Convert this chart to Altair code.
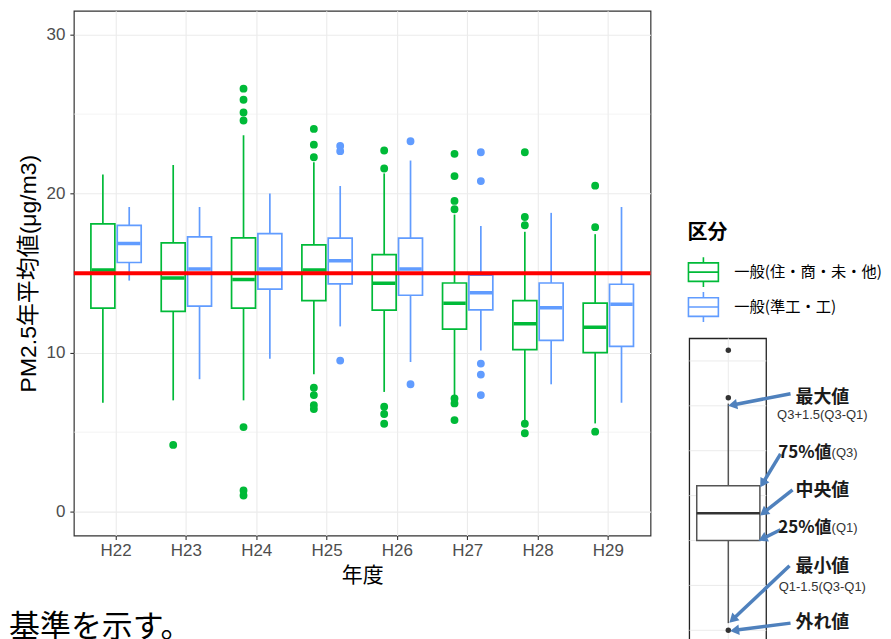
import altair as alt
import pandas as pd

FONT = "Liberation Sans, Noto Sans CJK JP, sans-serif"
JFONT = "Noto Sans CJK JP, sans-serif"

years = ["H22", "H23", "H24", "H25", "H26", "H27", "H28", "H29"]
groups = ["一般(住・商・未・他)", "一般(準工・工)"]
colors = ["#00BA38", "#619CFF"]

green_lower = [6.85, 7.0, 7.0, 8.64, 7.53, 7.22, 5.7, 5.55]
green_q1 = [12.8, 12.6, 12.8, 13.27, 12.67, 11.48, 10.19, 10.0]
green_median = [15.2, 14.7, 14.6, 15.2, 14.36, 13.1, 11.81, 11.6]
green_q3 = [18.1, 16.9, 17.22, 16.78, 16.16, 14.38, 13.27, 13.11]
green_upper = [21.2, 21.8, 23.67, 21.98, 21.27, 18.68, 17.6, 17.45]

blue_lower = [14.53, 8.33, 9.62, 11.65, 9.41, 10.14, 8.01, 6.85]
blue_q1 = [15.67, 12.92, 14.0, 14.32, 13.61, 12.69, 10.77, 10.39]
blue_median = [16.86, 15.26, 15.26, 15.78, 15.26, 13.76, 12.82, 13.04]
blue_q3 = [18.0, 17.28, 17.49, 17.2, 17.2, 14.88, 14.38, 14.3]
blue_upper = [19.16, 19.16, 20.0, 20.48, 22.08, 17.97, 18.79, 19.16]

green_outliers = {
    "H23": [4.2],
    "H24": [26.6, 25.9, 25.1, 24.6, 5.32, 1.33, 1.02],
    "H25": [24.07, 23.08, 22.29, 7.79, 7.33, 6.7, 6.45],
    "H26": [22.71, 21.58, 6.6, 6.14, 5.53],
    "H27": [22.5, 21.1, 19.54, 19.02, 7.12, 6.81, 5.76],
    "H28": [22.6, 18.53, 18.01, 5.53, 4.93],
    "H29": [20.5, 17.89, 5.03],
}
blue_outliers = {
    "H25": [23.0, 22.67, 9.5],
    "H26": [23.29, 8.01],
    "H27": [22.6, 20.79, 9.31, 8.62, 7.33],
}

standard = [15]
y_ticks = [0, 10, 20, 30]
y_minor = [5, 15, 25]

# ---- explanation inset (example boxplot, in its own units) ----
ex_points = [6.24, 5.18, 0.0]
ex_whisk_lo = [0.16, 3.22]
ex_whisk_hi = [2.0, 5.05]
ex_q1, ex_median, ex_q3 = 2.0, 2.61, 3.22
ex_grid = [0, 1, 2, 3, 4, 5, 6]

arrow_x1 = [13.16, 11.86, 13.42, 11.86, 13.03, 13.16]
arrow_y1 = [5.27, 3.93, 3.13, 2.24, 1.44, 0.16]
arrow_x2 = [5.62, 9.52, 9.65, 9.52, 5.62, 5.88]
arrow_y2 = [5.02, 3.27, 2.62, 2.04, 0.24, 0.0]

label_big_text = ["最大値", "中央値", "最小値", "外れ値"]
label_big_y = [5.18, 3.11, 1.40, 0.16]
label_small_text = ["Q3+1.5(Q3-Q1)", "Q1-1.5(Q3-Q1)"]
label_small_y = [4.80, 0.96]
label_pct_text = ["75%値", "25%値"]
label_pct_y = [3.96, 2.27]
label_q_text = ["(Q3)", "(Q1)"]

# ---- tables ----
rows = []
for i, y in enumerate(years):
    rows.append(dict(year=y, group=groups[0], lower=green_lower[i], q1=green_q1[i],
                     median=green_median[i], q3=green_q3[i], upper=green_upper[i]))
    rows.append(dict(year=y, group=groups[1], lower=blue_lower[i], q1=blue_q1[i],
                     median=blue_median[i], q3=blue_q3[i], upper=blue_upper[i]))
box_df = pd.DataFrame(rows)

orows = []
for y, vals in green_outliers.items():
    for v in vals:
        orows.append(dict(year=y, group=groups[0], value=v))
for y, vals in blue_outliers.items():
    for v in vals:
        orows.append(dict(year=y, group=groups[1], value=v))
out_df = pd.DataFrame(orows)

std_df = pd.DataFrame({"value": standard})
minor_df = pd.DataFrame({"value": y_minor})

YTITLE = "PM2.5年平均値(μg/m3)"
yscale = alt.Scale(domain=[-1.5, 31.5], nice=False, zero=False)
yaxis = alt.Axis(title=YTITLE, values=y_ticks, grid=True, labelPadding=5, titlePadding=6,
                 titleFont=FONT, titleFontSize=23)


def Y(field):
    return alt.Y(f"{field}:Q", scale=yscale, axis=yaxis)


def Y2(field):
    return alt.Y2(f"{field}:Q")


x_enc = alt.X("year:N", scale=alt.Scale(domain=years, paddingInner=0, paddingOuter=0.1),
              axis=alt.Axis(title="年度", labelAngle=0, grid=True, labelPadding=3,
                            titlePadding=6, titleFont=JFONT))
xoff = alt.XOffset("group:N", scale=alt.Scale(domain=groups, paddingInner=0, paddingOuter=0.335))

BOX_PATH = "M-1,-0.62H1V0.62H-1Z M-1,0H1 M0,-1V-0.62 M0,0.62V1"
legend = alt.Legend(title="区分", orient="none", legendX=615, legendY=213,
                    symbolType=BOX_PATH, symbolSize=900, symbolStrokeWidth=1.6,
                    symbolFillColor="white", labelFontSize=15.3, labelColor="black",
                    labelFont=JFONT, titleFont=JFONT, titleFontSize=20,
                    titleFontWeight="bold", titleColor="black", titlePadding=13,
                    rowPadding=-3, labelOffset=15, labelLimit=400)
col = alt.Color("group:N", scale=alt.Scale(domain=groups, range=colors), legend=legend)

base_box = alt.Chart(box_df)

minor = alt.Chart(minor_df).mark_rule(color="#EEEEEE", strokeWidth=0.7).encode(y=Y("value"))

boxes = base_box.mark_bar(filled=False, size=24, strokeWidth=1.7).encode(
    x=x_enc, xOffset=xoff, y=Y("q1"), y2=Y2("q3"), color=col)
wlo = base_box.mark_rule(strokeWidth=1.7).encode(
    x=x_enc, xOffset=xoff, y=Y("lower"), y2=Y2("q1"), color=col)
whi = base_box.mark_rule(strokeWidth=1.7).encode(
    x=x_enc, xOffset=xoff, y=Y("q3"), y2=Y2("upper"), color=col)
med = base_box.mark_bar(filled=False, size=22.5, strokeWidth=3.5).encode(
    x=x_enc, xOffset=xoff, y=Y("median"), y2=Y2("median"), color=col)
pts = alt.Chart(out_df).mark_point(filled=False, shape="circle", size=15, strokeWidth=4,
                                   opacity=1).encode(
    x=x_enc, xOffset=xoff, y=Y("value"), color=col)
std = alt.Chart(std_df).mark_rule(color="#FF0000", strokeWidth=4).encode(y=Y("value"))

main = alt.layer(boxes, minor, wlo, whi, med, pts, std).properties(
    width=578, height=526,
    title=alt.TitleParams("基準を示す。", orient="bottom", anchor="start", frame="bounds",
                          fontSize=31, fontWeight="normal", color="black", font=JFONT,
                          dx=-8, offset=28))

# ---- inset ----
SX = 7.7
SY = 45.0
ix = alt.Scale(domain=[0, 10], nice=False, zero=False)
iy = alt.Scale(domain=[-0.489, 13.8], nice=False, zero=False)


def IX(f):
    return alt.X(f"{f}:Q", scale=ix, axis=None)


def IY(f):
    return alt.Y(f"{f}:Q", scale=iy, axis=None)


frame_df = pd.DataFrame({"x": [0], "x2": [10], "y": [-0.489], "y2": [6.5]})
grid_df = pd.DataFrame({"y": ex_grid, "x": [0] * len(ex_grid), "x2": [10] * len(ex_grid)})
vgrid_df = pd.DataFrame({"x": [5.06], "y": [-0.489], "y2": [6.5]})
wh_df = pd.DataFrame({"x": [5.06, 5.06], "y": ex_whisk_lo, "y2": ex_whisk_hi})
exbox_df = pd.DataFrame({"x": [0.95], "x2": [9.17], "y": [ex_q1], "y2": [ex_q3], "m": [ex_median]})
expt_df = pd.DataFrame({"x": [5.06] * len(ex_points), "y": ex_points})
arrow_df = pd.DataFrame({"x": arrow_x1, "y": arrow_y1, "x2": arrow_x2, "y2": arrow_y2})
lb_df = pd.DataFrame({"x": [17.3] * len(label_big_text), "y": label_big_y, "t": label_big_text})
ls_df = pd.DataFrame({"x": [17.3] * len(label_small_text), "y": label_small_y, "t": label_small_text})
lp_df = pd.DataFrame({"x": [18.5, 18.5], "y": label_pct_y, "t": label_pct_text})
lq_df = pd.DataFrame({"x": [18.5, 18.5], "y": label_pct_y, "t": label_q_text})

frame = alt.Chart(frame_df).mark_rect(fill="white", stroke="#222222", strokeWidth=1.3).encode(
    x=IX("x"), x2="x2:Q", y=IY("y"), y2="y2:Q")
igrid = alt.Chart(grid_df).mark_rule(color="#EBEBEB", strokeWidth=1).encode(
    x=IX("x"), x2="x2:Q", y=IY("y"))
ivgrid = alt.Chart(vgrid_df).mark_rule(color="#EBEBEB", strokeWidth=1).encode(
    x=IX("x"), y=IY("y"), y2="y2:Q")
iwh = alt.Chart(wh_df).mark_rule(color="#555555", strokeWidth=1.5).encode(
    x=IX("x"), y=IY("y"), y2="y2:Q")
ibox = alt.Chart(exbox_df).mark_rect(fill="white", stroke="#555555", strokeWidth=1.5).encode(
    x=IX("x"), x2="x2:Q", y=IY("y"), y2="y2:Q")
imed = alt.Chart(exbox_df).mark_rule(color="#333333", strokeWidth=2.5).encode(
    x=IX("x"), x2="x2:Q", y=IY("m"))
ipts = alt.Chart(expt_df).mark_circle(color="#333333", size=30, opacity=1).encode(
    x=IX("x"), y=IY("y"))
ARROW = "#4F81BD"
ishaft = alt.Chart(arrow_df).mark_rule(color=ARROW, strokeWidth=3.5).encode(
    x=IX("x"), x2="x2:Q", y=IY("y"), y2="y2:Q")
ihead = alt.Chart(arrow_df).transform_calculate(
    ang=f"(atan2((datum.x2 - datum.x) * {SX}, (datum.y2 - datum.y) * {SY}) * 180 / PI + 360) % 360"
).mark_point(shape="triangle-up", filled=True, color=ARROW, size=110, opacity=1).encode(
    x=IX("x2"), y=IY("y2"), angle=alt.Angle("ang:Q", scale=None))
itext_b = alt.Chart(lb_df).mark_text(align="center", baseline="middle", font=JFONT,
                                     color="#1a1a1a", fontSize=18, fontWeight="bold").encode(
    x=IX("x"), y=IY("y"), text="t:N")
itext_s = alt.Chart(ls_df).mark_text(align="center", baseline="middle", font=FONT,
                                     color="#333333", fontSize=13).encode(
    x=IX("x"), y=IY("y"), text="t:N")
itext_p = alt.Chart(lp_df).mark_text(align="right", baseline="middle", font=JFONT,
                                     color="#1a1a1a", fontSize=17, fontWeight="bold").encode(
    x=IX("x"), y=IY("y"), text="t:N")
itext_q = alt.Chart(lq_df).mark_text(align="left", baseline="middle", font=FONT,
                                     color="#333333", fontSize=13).encode(
    x=IX("x"), y=IY("y"), text="t:N")

inset = alt.layer(frame, igrid, ivgrid, iwh, ibox, imed, ipts, ishaft, ihead,
                  itext_b, itext_s, itext_p, itext_q).properties(
    width=77, height=643, view=alt.ViewBackground(strokeOpacity=0))

chart = alt.hconcat(main, inset, spacing=39, bounds="flush").properties(
    padding={"left": 0, "top": 1, "right": 0, "bottom": 0}
).configure(font=FONT).configure_view(
    stroke="#333333", strokeWidth=1.2
).configure_axis(
    labelFont=FONT, labelFontSize=17, labelColor="#4D4D4D",
    titleFontSize=21, titleFontWeight="normal", titleColor="black",
    tickColor="#333333", tickSize=4, tickWidth=1.1, domain=False,
    gridColor="#EBEBEB", gridWidth=1.1
)

chart.save("out.html", embed_options={"renderer": "svg", "actions": False})
